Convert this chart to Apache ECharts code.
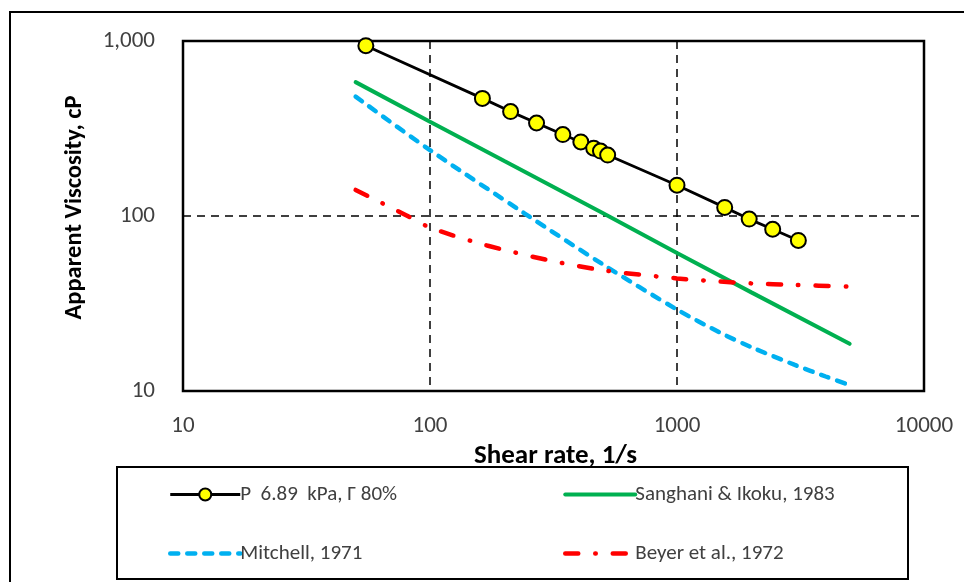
<!DOCTYPE html>
<html>
<head>
<meta charset="utf-8">
<script src="https://cdn.jsdelivr.net/npm/echarts@6/dist/echarts.min.js"></script>
<style>
  html, body { margin: 0; padding: 0; background: #fff; }
  #chart { width: 964px; height: 582px; }
</style>
</head>
<body>
<div id="chart"></div>
<script>
// Apparent viscosity vs. shear rate (log-log)
const xTicks = [10, 100, 1000, 10000];
const yTicks = [10, 100, 1000];

// Measured foam data: shear rate (1/s), apparent viscosity (cP)
const measuredRate = [55, 163, 212, 270, 345, 408, 460, 490, 524, 1000, 1560, 1960, 2440, 3100];
const measuredVisc = [940, 470, 395, 340, 292, 265, 244, 235, 223, 150, 112, 96, 84, 72.5];

// Sanghani & Ikoku, 1983
const sanghaniRate = [50, 100, 200, 500, 1000, 2000, 5000];
const sanghaniVisc = [582, 346, 206, 104, 61.5, 36.6, 18.6];

// Mitchell, 1971
const mitchellRate = [50, 100, 240, 500, 1000, 1500, 2000, 3000, 4000, 5000];
const mitchellVisc = [481, 238, 104, 53, 29.2, 21.5, 17.8, 14.1, 12.1, 10.8];

// Beyer et al., 1972
const beyerRate = [50, 80, 100, 150, 200, 300, 500, 1000, 1500, 2000, 3000, 5000];
const beyerVisc = [141, 101, 86, 71.3, 64, 56, 49, 44, 42.2, 41.2, 40.4, 39.5];

const seriesNames = ['P  6.89  kPa, Γ 80%', 'Sanghani & Ikoku, 1983', 'Mitchell, 1971', 'Beyer et al., 1972'];

const pairs = (xs, ys) => xs.map((x, i) => [x, ys[i]]);

const FONT = 'Carlito, Lato, "Liberation Sans", sans-serif';
const FS = 23;

const styles = {
  measured: { color: '#000', width: 2.8 },
  sanghani: { color: '#00b050', width: 4, type: 'solid', cap: 'round' },
  mitchell: { color: '#00b0f0', width: 4.5, type: [8, 9], cap: 'round' },
  beyer: { color: '#ff0000', width: 4.5, type: [13, 17, 0.5, 17], cap: 'round' }
};

const chart = echarts.init(document.getElementById('chart'), null, { renderer: 'canvas' });

const legendText = { fontFamily: FONT, fontSize: 21, color: '#404040', padding: [0, 0, 0, -5] };
const noMarker = { opacity: 0 };

const option = {
  backgroundColor: '#fff',
  animation: false,
  textStyle: { fontFamily: FONT },
  grid: {
    left: 183, top: 41, width: 741, height: 350,
    show: true, borderColor: '#000', borderWidth: 2.5, backgroundColor: 'transparent'
  },
  xAxis: {
    type: 'log', logBase: 10, min: xTicks[0], max: xTicks[xTicks.length - 1],
    name: 'Shear rate, 1/s', nameLocation: 'middle', nameGap: 37,
    nameTextStyle: { fontFamily: FONT, fontSize: 27, fontWeight: 'bold', color: '#000',
      padding: [0, 0, 0, 4] },
    axisLine: { show: false },
    axisTick: { show: false },
    axisLabel: { fontFamily: FONT, fontSize: FS, color: '#404040', margin: 24,
      formatter: v => String(Math.round(v)) },
    splitLine: { show: true, lineStyle: { color: '#000', type: [8, 6], width: 1.5 } }
  },
  yAxis: {
    type: 'log', logBase: 10, min: yTicks[0], max: yTicks[yTicks.length - 1],
    name: 'Apparent Viscosity, cP', nameLocation: 'middle', nameGap: 96,
    nameTextStyle: { fontFamily: FONT, fontSize: 24.5, fontWeight: 'bold', color: '#000',
      padding: [0, 0, 0, 17] },
    axisLine: { show: false },
    axisTick: { show: false },
    axisLabel: { fontFamily: FONT, fontSize: FS, color: '#404040', margin: 28,
      formatter: v => Math.round(v).toLocaleString('en-US') },
    splitLine: { show: true, lineStyle: { color: '#000', type: [8, 6], width: 1.5 } }
  },
  legend: [
    {
      left: 163, top: 479, orient: 'vertical', itemGap: 38,
      itemWidth: 70, itemHeight: 15, textStyle: legendText,
      data: [
        { name: seriesNames[0], lineStyle: styles.measured },
        { name: seriesNames[2], lineStyle: styles.mitchell, itemStyle: noMarker }
      ]
    },
    {
      left: 558, top: 479, orient: 'vertical', itemGap: 38,
      itemWidth: 70, itemHeight: 15, textStyle: legendText,
      data: [
        { name: seriesNames[1], lineStyle: styles.sanghani, itemStyle: noMarker },
        { name: seriesNames[3], lineStyle: styles.beyer, itemStyle: noMarker }
      ]
    }
  ],
  graphic: [
    { type: 'rect', silent: true, shape: { x: 10, y: 12, width: 1200, height: 1200 },
      style: { fill: 'none', stroke: '#000', lineWidth: 2 } },
    { type: 'rect', silent: true, shape: { x: 117, y: 467, width: 791, height: 112 },
      style: { fill: '#fff', stroke: '#000', lineWidth: 2 }, z: -1 }
  ],
  series: [
    {
      name: seriesNames[1], type: 'line', data: pairs(sanghaniRate, sanghaniVisc),
      showSymbol: false, symbol: 'none',
      lineStyle: styles.sanghani, itemStyle: { color: styles.sanghani.color }, z: 2
    },
    {
      name: seriesNames[2], type: 'line', data: pairs(mitchellRate, mitchellVisc),
      showSymbol: false, symbol: 'none', smooth: 0.3,
      lineStyle: styles.mitchell, itemStyle: { color: styles.mitchell.color }, z: 2
    },
    {
      name: seriesNames[3], type: 'line', data: pairs(beyerRate, beyerVisc),
      showSymbol: false, symbol: 'none', smooth: 0.3,
      lineStyle: styles.beyer, itemStyle: { color: styles.beyer.color }, z: 2
    },
    {
      name: seriesNames[0], type: 'line', data: pairs(measuredRate, measuredVisc),
      symbol: 'circle', symbolSize: 15, showSymbol: true,
      lineStyle: styles.measured,
      itemStyle: { color: '#ffff00', borderColor: '#000', borderWidth: 2 }, z: 3
    }
  ]
};

chart.setOption(option);
</script>
</body>
</html>
